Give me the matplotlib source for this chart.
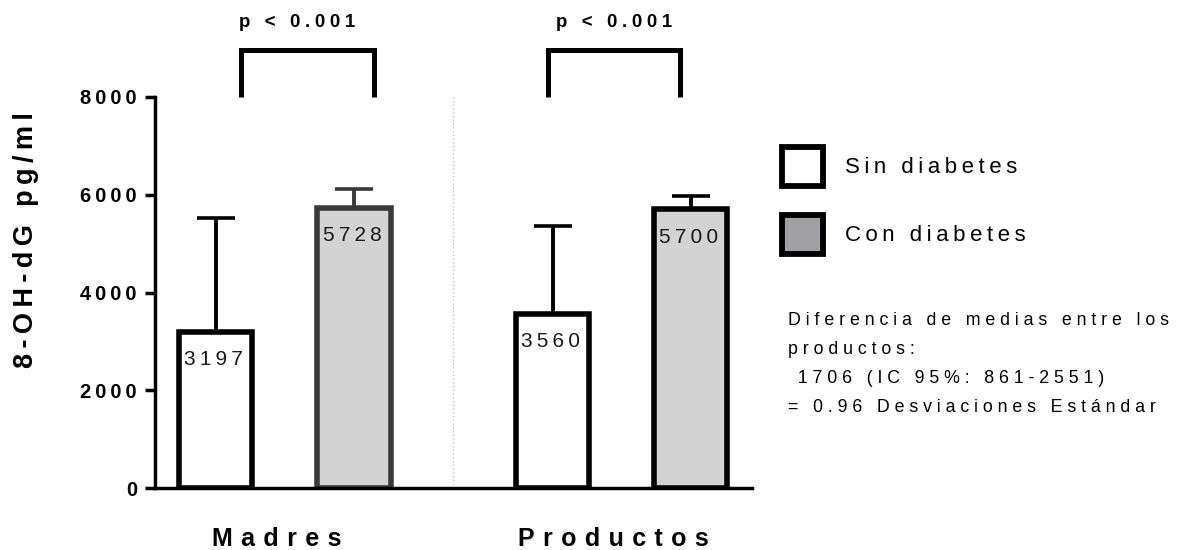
import matplotlib
matplotlib.use("Agg")
import matplotlib.pyplot as plt
from matplotlib.patches import Patch

plt.rcParams['font.family'] = ['Liberation Sans', 'DejaVu Sans']

# ---- data ----
groups = ["Madres", "Productos"]
series = ["Sin diabetes", "Con diabetes"]
sin_means = [3197, 3560]
con_means = [5728, 5700]
sin_err_up = [2324, 1804]
con_err_up = [382, 282]
p_labels = ["p < 0.001", "p < 0.001"]
y_ticks = [0, 2000, 4000, 6000, 8000]
note_lines = [
    "Diferencia de medias entre los",
    "productos:",
    " 1706 (IC 95%: 861-2551)",
    "= 0.96 Desviaciones Estándar",
]

THIN = "\u2009"
THREE_PER_EM = "\u2004"
FOUR_PER_EM = "\u2005"


def spaced(text, gap):
    """Widen letter spacing by putting a gap between characters."""
    return gap.join(text)


W, H = 1177, 550
fig = plt.figure(figsize=(W / 100, H / 100), dpi=100)
ax = fig.add_axes([155 / W, 1 - 488 / H, 597 / W, 391 / H])

offset = 0.205
bar_w = 0.217
xg = list(range(len(groups)))
x_sin = [g - offset for g in xg]
x_con = [g + offset for g in xg]

lw_bar = 4.0
ax.bar(x_sin, sin_means, width=bar_w, color="white", edgecolor="black",
       linewidth=lw_bar, zorder=2)
con_edges = ["#3a3a3a", "black"]
ax.bar(x_con, con_means, width=bar_w, color="#d3d3d3", edgecolor=con_edges,
       linewidth=lw_bar, zorder=2)

for xs, ms, es, cols in [(x_sin, sin_means, sin_err_up, ["black", "black"]),
                          (x_con, con_means, con_err_up, con_edges)]:
    for x, m, e, c in zip(xs, ms, es, cols):
        ax.errorbar([x], [m], yerr=[[0], [e]], fmt="none", ecolor=c,
                    elinewidth=2.8, capsize=14, capthick=2.6, zorder=1)

# value labels just under the top of each bar
for xs, ms in [(x_sin, sin_means), (x_con, con_means)]:
    for x, m in zip(xs, ms):
        ax.annotate(spaced(str(m), THIN), xy=(x, m), xytext=(-1.5, -20),
                    textcoords="offset points", ha="center", va="center",
                    fontsize=15, color="#1a1a1a", zorder=3)

# dotted separator between the two groups
ax.plot([0.5, 0.5], [0, 8000], linestyle=(0, (1, 2)), color="#bbbbbb",
        linewidth=0.9, zorder=0)

# significance brackets
bracket_x = [(-0.131, 0.264), (0.781, 1.173)]
text_x = [0.036, 0.977]
for (x1, x2), tx, lab in zip(bracket_x, text_x, p_labels):
    ax.plot([x1, x1, x2, x2], [8000, 8960, 8960, 8000], color="black",
            linewidth=3.6, clip_on=False, solid_joinstyle="miter",
            solid_capstyle="butt")
    ax.text(tx, 9430, spaced(lab, FOUR_PER_EM), ha="center", va="baseline",
            fontsize=13.4, fontweight="bold", clip_on=False)

ax.set_xlim(-0.386, 1.387)
ax.set_ylim(0, 8000)
ax.set_yticks(y_ticks)
ax.set_yticklabels([spaced(str(t), THIN) for t in y_ticks],
                   fontsize=14.5, fontweight="bold")
ax.set_xticks(xg)
ax.set_xticklabels([spaced(g, THREE_PER_EM) + THREE_PER_EM + THREE_PER_EM
                    for g in groups], fontsize=18, fontweight="bold")
ax.tick_params(axis="y", direction="out", length=7, width=2.5, pad=6)
ax.tick_params(axis="x", length=0, pad=28)

for side in ["top", "right"]:
    ax.spines[side].set_visible(False)
for side in ["left", "bottom"]:
    ax.spines[side].set_linewidth(2.5)

fig.text(26 / W, 1 - 240 / H, spaced("8-OH-dG pg/ml", THIN), rotation=90,
         ha="center", va="center", fontsize=19.5, fontweight="bold")

handles = [Patch(facecolor="white", edgecolor="black", linewidth=4.2),
           Patch(facecolor="#a0a0a4", edgecolor="black", linewidth=4.2)]
fig.legend(handles, [spaced(s, THIN) for s in series], loc="upper left",
           bbox_to_anchor=(782 / W, 1 - 147 / H), frameon=False, fontsize=16,
           handlelength=1.85, handleheight=2.33, handletextpad=1.0,
           labelspacing=1.3, borderpad=0, borderaxespad=0)

baselines = [325, 354, 383, 412]
for line, yb in zip(note_lines, baselines):
    fig.text(788 / W, 1 - yb / H, spaced(line, " "), ha="left",
             va="baseline", fontsize=12.8)

fig.savefig("out.png", dpi=100)
